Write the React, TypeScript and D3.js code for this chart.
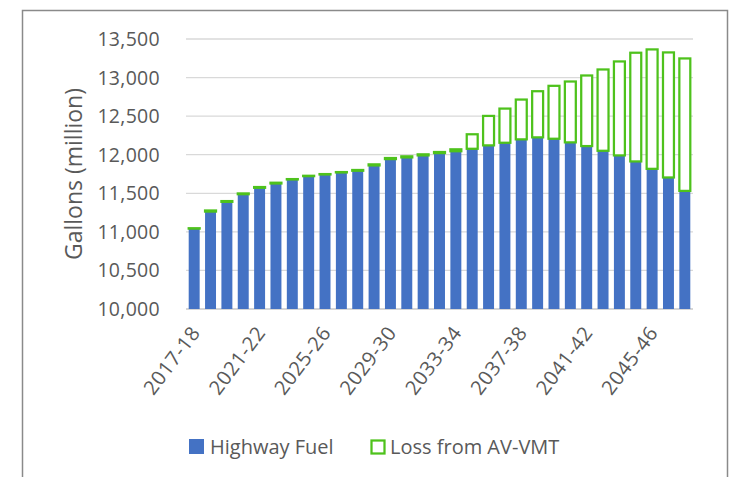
import React from 'react'
import { scaleBand, scaleLinear, format } from 'd3'

// fiscal years, one bar each
const years = [
  '2017-18', '2018-19', '2019-20', '2020-21', '2021-22', '2022-23', '2023-24', '2024-25',
  '2025-26', '2026-27', '2027-28', '2028-29', '2029-30', '2030-31', '2031-32', '2032-33',
  '2033-34', '2034-35', '2035-36', '2036-37', '2037-38', '2038-39', '2039-40', '2040-41',
  '2041-42', '2042-43', '2043-44', '2044-45', '2045-46', '2046-47', '2047-48',
]
const labelYears = ['2017-18', '2021-22', '2025-26', '2029-30', '2033-34', '2037-38', '2041-42', '2045-46']

// gallons (million)
const highwayFuel = [
  11042, 11263, 11389, 11488, 11571, 11627, 11679, 11722, 11744, 11770, 11792, 11861,
  11943, 11965, 11991, 12021, 12045, 12077, 12121, 12155, 12199, 12225, 12207, 12160,
  12112, 12051, 11991, 11913, 11817, 11705, 11531,
]
const lossFromAV = [
  5, 14, 10, 10, 10, 10, 5, 5, 5, 5, 10, 14, 14, 14, 14, 14, 25, 188, 382, 443, 516,
  598, 686, 789, 915, 1054, 1218, 1409, 1548, 1621, 1717,
]
const yTicks = [10000, 10500, 11000, 11500, 12000, 12500, 13000, 13500]

const BLUE = '#4472c4'
const GREEN = '#4ec21c'
const TEXT = '#595959'
const FONT = '"Open Sans", sans-serif'

const App = () => {
  const width = 731
  const height = 477
  const plot = { left: 186, right: 693, top: 39, bottom: 309 }

  const x = scaleBand()
    .domain(years)
    .range([plot.left, plot.right])
    .paddingInner(0.33)
    .paddingOuter(0.165)
  const y = scaleLinear().domain([10000, 13500]).range([plot.bottom, plot.top])
  const fmt = format(',')

  return (
    <div style={{ position: 'fixed', left: 0, top: 0 }}>
      <svg width={width} height={height} style={{ display: 'block', background: '#fff' }}>
        <rect x={22.5} y={10.5} width={705} height={480} fill='#fff' stroke='#8a8a8a' strokeWidth={1.5} />

        {yTicks.map(t => (
          <g key={t}>
            <line x1={plot.left} x2={plot.right} y1={y(t)} y2={y(t)}
              stroke={t === 10000 ? '#c8c8c8' : '#d9d9d9'} strokeWidth={1.3} />
            <text x={160} y={y(t)} dy='0.36em' textAnchor='end' fill={TEXT}
              fontFamily={FONT} fontSize={19.5} letterSpacing={0.3}>{fmt(t)}</text>
          </g>
        ))}

        <text transform={`translate(82,${(plot.top + plot.bottom) / 2}) rotate(-90)`}
          textAnchor='middle' fill={TEXT} fontFamily={FONT} fontSize={23}>Gallons (million)</text>

        {years.map((yr, i) => {
          const bx = x(yr)
          const total = highwayFuel[i] + lossFromAV[i]
          return (
            <g key={yr}>
              <rect x={bx} y={y(highwayFuel[i])} width={x.bandwidth()}
                height={y(10000) - y(highwayFuel[i])} fill={BLUE} />
              <rect x={bx} y={y(total)} width={x.bandwidth()}
                height={y(highwayFuel[i]) - y(total)} fill='#fff' stroke={GREEN} strokeWidth={2.25} />
            </g>
          )
        })}

        {labelYears.map(yr => {
          const cx = x(yr) + x.bandwidth() / 2 + 7
          return (
            <text key={yr} transform={`translate(${cx},333) rotate(-53)`} textAnchor='end'
              fill={TEXT} fontFamily={FONT} fontSize={20} letterSpacing={0.6}>{yr}</text>
          )
        })}

        <rect x={189} y={439} width={15} height={15} fill={BLUE} />
        <text x={210} y={454} fill={TEXT} fontFamily={FONT} fontSize={20}>Highway Fuel</text>
        <rect x={371.5} y={440.5} width={13} height={13} fill='#fff' stroke={GREEN} strokeWidth={2.25} />
        <text x={390} y={454} fill={TEXT} fontFamily={FONT} fontSize={20}>Loss from AV-VMT</text>
      </svg>
    </div>
  )
}

export default App
